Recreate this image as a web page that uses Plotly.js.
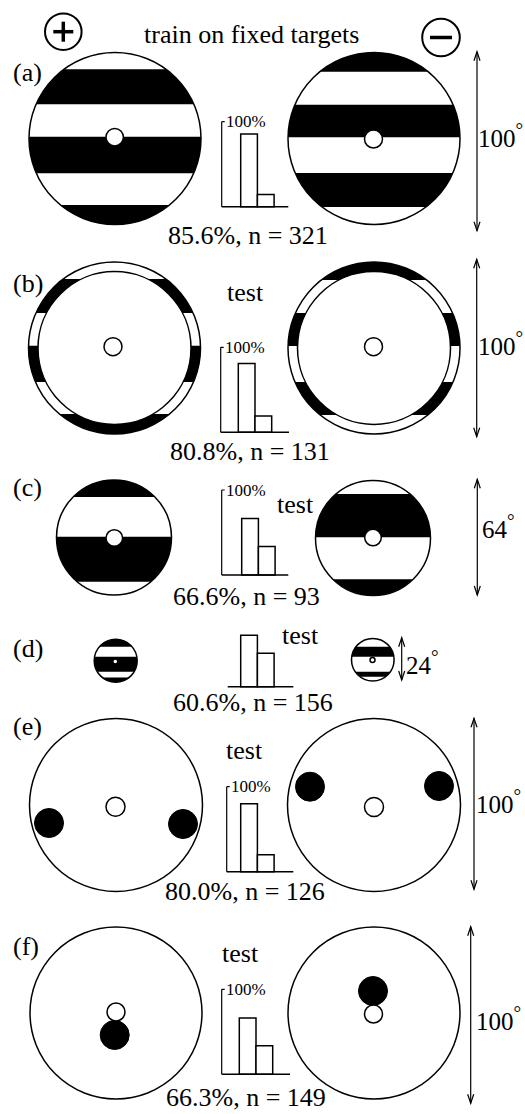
<!DOCTYPE html>
<html><head><meta charset="utf-8">
<script src="https://cdn.plot.ly/plotly-3.0.1.min.js"></script>
<style>html,body{margin:0;padding:0;background:#fff}</style>
</head><body><div id="chart" style="width:525px;height:1114px"></div>
<script>
// ---------------- data ----------------
const panelLabels = ['(a)', '(b)', '(c)', '(d)', '(e)', '(f)'];
const conditionLabels = ['train on fixed targets', 'test', 'test', 'test', 'test', 'test'];
const correctPct = [85.6, 80.8, 66.6, 60.6, 80.0, 66.3];
const incorrectPct = [14.4, 19.2, 33.4, 39.4, 20.0, 33.7];
const trialCounts = [321, 131, 93, 156, 126, 149];
const targetSizeDeg = [100, 100, 64, 24, 100, 100];
const barCategories = [0, 1];
const axisMaxLabel = '100%';

// ---------------- geometry (layout only) ----------------
const W = 525, H = 1114;
const FONT = 'Liberation Serif, Times New Roman, serif';
const BARPX = 16.7, FULLPX = 85, PAD = 4;
const hist = [
  {ax: 221.7, base: 206.7, left: 240.7, right: 288.3, axis: true},
  {ax: 220.7, base: 432.3, left: 238.3, right: 289.0, axis: true},
  {ax: 221.7, base: 575.0, left: 241.7, right: 288.3, axis: true},
  {ax: 227.7, base: 686.7, left: 240.7, right: 293.3, axis: false},
  {ax: 226.7, base: 871.7, left: 240.7, right: 293.3, axis: true},
  {ax: 221.7, base: 1074.3, left: 239.3, right: 290.0, axis: true}
];
const targets = [
  {cx: 115, cy: 138.5, r: 86, bands: [[69.3, 104.3], [136.7, 173.3], [205, 240]], dot: [114.7, 137.2, 8.7]},
  {cx: 374, cy: 138.5, r: 86, bands: [[40, 71.7], [104.7, 137.3], [173, 207]], dot: [373.5, 139, 9]},
  {cx: 114.5, cy: 348, r: 86, inner: 76.5, bands: [[279, 313], [345.7, 382], [414, 450]], dot: [113, 346.7, 9]},
  {cx: 374, cy: 348, r: 86, inner: 76.5, bands: [[250, 280], [313, 346], [382, 415]], dot: [373.5, 346.7, 9]},
  {cx: 114, cy: 537.5, r: 57.5, bands: [[470, 497], [536.7, 581.7]], dot: [114.3, 538, 8.3]},
  {cx: 373, cy: 538, r: 57.5, bands: [[494, 537.3], [579.3, 610]], dot: [373, 537.5, 8.3]},
  {cx: 115.7, cy: 660.7, r: 21.5, bands: [[630, 646.7], [656.7, 671.7], [677.5, 690]], dot: [115.3, 661.5, 2.5]},
  {cx: 372.8, cy: 659.7, r: 21.3, bands: [[646.7, 656.7], [671.7, 676.7]], dot: [372.5, 660, 2.5]},
  {cx: 116, cy: 805, r: 86.5, blobs: [[49, 823, 14.5], [183, 824, 14.5]], dot: [115.5, 806.7, 9.5]},
  {cx: 374, cy: 805, r: 86.5, blobs: [[310, 786.7, 14.5], [439, 786, 14.5]], dot: [374, 807, 9.5]},
  {cx: 116, cy: 1013, r: 86, blobs: [[114.7, 1035, 14.5]], dot: [116, 1012, 9]},
  {cx: 374, cy: 1013, r: 86, blobs: [[373, 991, 14.5]], dot: [373.5, 1014, 9]}
];
const arrows = [
  {x: 477, y0: 51.7, y1: 230.7, tx: 477, ty: 135.5},
  {x: 476.7, y0: 259.3, y1: 436.7, tx: 477, ty: 343},
  {x: 477.3, y0: 479.3, y1: 595, tx: 481, ty: 526.7},
  {x: 401.7, y0: 637.7, y1: 680, tx: 405, ty: 662.5},
  {x: 474, y0: 718.3, y1: 889.3, tx: 475, ty: 801.5},
  {x: 470.7, y0: 926.7, y1: 1103.3, tx: 475, ty: 1018}
];
const labelPos = [72, 283, 487.5, 648, 726.5, 946.5];
const captionPos = [[248, 235], [250, 451], [246, 596], [252.5, 702], [245.3, 891.7], [246, 1097]];
const condPos = [[251, 34], [245.8, 292], [295, 504], [300.5, 635], [244, 750], [240.5, 953]];

// ---------------- helpers ----------------
function bandPath(cx, cy, r, y1, y2) {
  y1 = Math.max(y1, cy - r); y2 = Math.min(y2, cy + r);
  const a1 = Math.asin((y1 - cy) / r), a2 = Math.asin((y2 - cy) / r);
  const N = 48, pts = [];
  for (let i = 0; i <= N; i++) { const a = a1 + (a2 - a1) * i / N; pts.push([cx + r * Math.cos(a), cy + r * Math.sin(a)]); }
  for (let i = N; i >= 0; i--) { const a = a1 + (a2 - a1) * i / N; pts.push([cx - r * Math.cos(a), cy + r * Math.sin(a)]); }
  return 'M' + pts.map(p => p[0].toFixed(2) + ',' + p[1].toFixed(2)).join('L') + 'Z';
}
function circ(cx, cy, r, fill, lw) {
  return {type: 'circle', xref: 'x', yref: 'y', x0: cx - r, x1: cx + r, y0: cy - r, y1: cy + r,
    fillcolor: fill, line: {color: 'black', width: lw}, layer: 'above'};
}
function line(x0, y0, x1, y1, w, xref, yref) {
  return {type: 'line', xref: xref || 'x', yref: yref || 'y', x0, y0, x1, y1, line: {color: 'black', width: w}};
}
function txt(x, y, text, size, xanchor, xref, yref) {
  return {x, y, xref: xref || 'x', yref: yref || 'y', text, showarrow: false, xanchor: xanchor || 'center',
    yanchor: 'middle', borderpad: 0, font: {family: FONT, size, color: 'black'}};
}

const shapes = [], annotations = [];
const traces = [{type: 'scatter', x: [], y: [], xaxis: 'x', yaxis: 'y', showlegend: false}];
const layout = {
  width: W, height: H, margin: {l: 0, r: 0, t: 0, b: 0}, paper_bgcolor: 'white', plot_bgcolor: 'rgba(0,0,0,0)',
  showlegend: false, bargap: 0,
  xaxis: {range: [0, W], domain: [0, 1], visible: false, fixedrange: true},
  yaxis: {range: [H, 0], domain: [0, 1], visible: false, fixedrange: true}
};

// targets
targets.forEach(t => {
  (t.bands || []).forEach(b => shapes.push({type: 'path', xref: 'x', yref: 'y', path: bandPath(t.cx, t.cy, t.r, b[0], b[1]),
    fillcolor: 'black', line: {width: 0}}));
  shapes.push(circ(t.cx, t.cy, t.r, 'rgba(0,0,0,0)', 1.5));
  if (t.inner) shapes.push(circ(t.cx, t.cy, t.inner, 'white', 1.5));
  (t.blobs || []).forEach(b => shapes.push(circ(b[0], b[1], b[2], 'black', 1)));
  shapes.push(circ(t.dot[0], t.dot[1], t.dot[2], 'white', 1.5));
});

// plus / minus symbols
shapes.push(circ(63.3, 31.7, 18.3, 'rgba(0,0,0,0)', 2));
shapes.push(line(53.3, 31.7, 73.3, 31.7, 3.5));
shapes.push(line(63.3, 21.7, 63.3, 41.7, 3.5));
shapes.push(circ(441, 37.5, 18.8, 'rgba(0,0,0,0)', 2));
shapes.push(line(430, 37.5, 452, 37.5, 3.5));

// arrows and size labels
arrows.forEach((a, i) => {
  shapes.push(line(a.x, a.y0, a.x, a.y1, 1.2));
  shapes.push({type: 'path', xref: 'x', yref: 'y', line: {color: 'black', width: 1.2},
    path: `M${a.x - 3},${a.y0 + 9}L${a.x},${a.y0}L${a.x + 3},${a.y0 + 9}M${a.x - 3},${a.y1 - 9}L${a.x},${a.y1}L${a.x + 3},${a.y1 - 9}`});
  annotations.push(txt(a.tx, a.ty, targetSizeDeg[i] + '<sup><span style="font-size:19px">°</span></sup>', 25, 'left'));
});

// histograms
hist.forEach((h, i) => {
  const k = i + 2;
  const d0 = h.ax - PAD, d1 = h.right + PAD;
  const L = -0.5 - (h.left - d0) / BARPX;
  const R = L + (d1 - d0) / BARPX;
  const pxPerPct = FULLPX / 100;
  layout['xaxis' + k] = {domain: [d0 / W, d1 / W], range: [L, R], visible: false, fixedrange: true, anchor: 'y' + k};
  layout['yaxis' + k] = {domain: [(H - h.base - PAD) / H, (H - h.base + FULLPX + PAD) / H],
    range: [-PAD / pxPerPct, 100 + PAD / pxPerPct], visible: false, fixedrange: true, anchor: 'x' + k};
  traces.push({type: 'bar', x: barCategories, y: [correctPct[i], incorrectPct[i]], width: 1,
    xaxis: 'x' + k, yaxis: 'y' + k, marker: {color: 'white', line: {color: 'black', width: 1.5}},
    hoverinfo: 'skip', showlegend: false});
  const xa = -0.5 - (h.left - h.ax) / BARPX, xb = -0.5 - (h.left - h.right) / BARPX;
  shapes.push(line(xa, 0, xb, 0, 1.5, 'x' + k, 'y' + k));
  if (h.axis) {
    shapes.push(line(xa, 0, xa, 100, 1.2, 'x' + k, 'y' + k));
    shapes.push(line(xa, 100, xa + 3 / BARPX, 100, 1.2, 'x' + k, 'y' + k));
    annotations.push(txt(xa + 3.5 / BARPX, 100, axisMaxLabel, 17, 'left', 'x' + k, 'y' + k));
  }
});

// texts
panelLabels.forEach((p, i) => annotations.push(txt(12, labelPos[i], p, 26, 'left')));
conditionLabels.forEach((c, i) => annotations.push(txt(condPos[i][0], condPos[i][1], c, 26)));
correctPct.forEach((v, i) => annotations.push(txt(captionPos[i][0], captionPos[i][1],
  v.toFixed(1) + '%, n = ' + trialCounts[i], 26)));

layout.shapes = shapes;
layout.annotations = annotations;
Plotly.newPlot('chart', traces, layout, {displayModeBar: false, staticPlot: true});
</script>
</body></html>
